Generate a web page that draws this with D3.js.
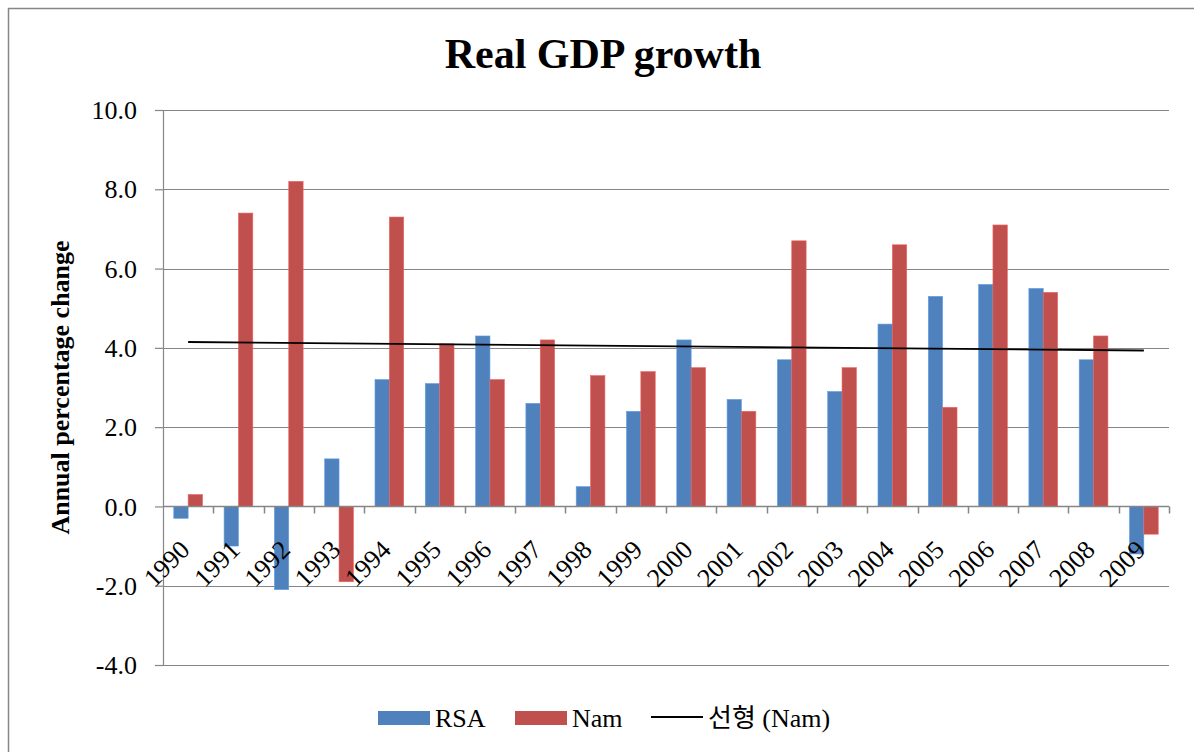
<!DOCTYPE html>
<html>
<head>
<meta charset="utf-8">
<script src="https://cdn.jsdelivr.net/npm/d3@7"></script>
<style>
  html, body { margin: 0; padding: 0; background: #fff; }
  svg { display: block; }
  text { font-family: "Liberation Serif", "Times New Roman", "Noto Sans CJK KR", serif; fill: #000; }
</style>
</head>
<body>
<svg id="chart" width="1194" height="752"></svg>
<script>
// Real GDP growth, annual percentage change
const years = ["1990","1991","1992","1993","1994","1995","1996","1997","1998","1999",
               "2000","2001","2002","2003","2004","2005","2006","2007","2008","2009"];
const rsa = [-0.3, -1.0, -2.1, 1.2, 3.2, 3.1, 4.3, 2.6, 0.5, 2.4,
             4.2, 2.7, 3.7, 2.9, 4.6, 5.3, 5.6, 5.5, 3.7, -1.2];
const nam = [0.3, 7.4, 8.2, -1.9, 7.3, 4.1, 3.2, 4.2, 3.3, 3.4,
             3.5, 2.4, 6.7, 3.5, 6.6, 2.5, 7.1, 5.4, 4.3, -0.7];
const yTicks = [-4, -2, 0, 2, 4, 6, 8, 10];
const seriesNames = ["RSA", "Nam"];
const trendName = "선형 (Nam)";
const colors = ["#4F81BD", "#C0504D"];

const svg = d3.select("#chart");
const margin = { left: 163, right: 1169, top: 110, bottom: 665 };

// outer chart frame (runs past the right and bottom edges)
svg.append("rect")
  .attr("x", 8.5).attr("y", 8.5)
  .attr("width", 1300).attr("height", 900)
  .attr("fill", "none").attr("stroke", "#868686").attr("stroke-width", 1.5);

const xCat = d3.scaleBand().domain(years).range([margin.left, margin.right]);
const y = d3.scaleLinear().domain([-4, 10]).range([margin.bottom, margin.top]);

// horizontal gridlines
svg.append("g").selectAll("line").data(yTicks).join("line")
  .attr("x1", margin.left).attr("x2", margin.right)
  .attr("y1", d => Math.round(y(d)) + 0.5).attr("y2", d => Math.round(y(d)) + 0.5)
  .attr("stroke", "#868686").attr("stroke-width", 1.2);

// y axis
const fmt = d => d3.format(".1f")(d).replace("\u2212", "-");
const yAxis = svg.append("g")
  .attr("transform", `translate(${margin.left},0)`)
  .call(d3.axisLeft(y).tickValues(yTicks).tickFormat(fmt).tickSize(8).tickPadding(18));
yAxis.select(".domain").attr("stroke", "#868686").attr("stroke-width", 1.2);
yAxis.selectAll(".tick line").attr("stroke", "#868686").attr("stroke-width", 1.2);
yAxis.selectAll(".tick text")
  .style("font-family", '"Liberation Serif", "Times New Roman", serif')
  .style("font-size", "26px").attr("fill", "#000").attr("dy", "0.33em");

// clustered bars: two series, gap of 150% of a bar width
const sub = d3.scaleBand().domain([0, 1]).range([0, xCat.bandwidth() * (2 / 3.5)]);
const barOffset = xCat.bandwidth() * (0.75 / 3.5);
const barData = [];
years.forEach((yr, i) => {
  barData.push({ yr, s: 0, v: rsa[i] });
  barData.push({ yr, s: 1, v: nam[i] });
});
svg.append("g").selectAll("rect").data(barData).join("rect")
  .attr("x", d => xCat(d.yr) + barOffset + sub(d.s))
  .attr("width", sub.bandwidth())
  .attr("y", d => y(Math.max(0, d.v)))
  .attr("height", d => Math.abs(y(d.v) - y(0)))
  .attr("fill", d => colors[d.s])
  .attr("stroke", d => d3.color(colors[d.s]).brighter(0.6))
  .attr("stroke-width", 0.6);

// x axis line at zero with category boundary ticks
const y0 = Math.round(y(0)) + 0.5;
svg.append("line")
  .attr("x1", margin.left).attr("x2", margin.right)
  .attr("y1", y0).attr("y2", y0)
  .attr("stroke", "#868686").attr("stroke-width", 1.5);
const bounds = years.map(yr => xCat(yr)).concat([margin.right]).slice(1);
svg.append("g").selectAll("line").data(bounds).join("line")
  .attr("x1", d => Math.round(d) + 0.5).attr("x2", d => Math.round(d) + 0.5)
  .attr("y1", y0).attr("y2", y0 + 7)
  .attr("stroke", "#868686").attr("stroke-width", 1.5);

// rotated category labels
svg.append("g").selectAll("text").data(years).join("text")
  .attr("transform", d => `translate(${xCat(d) + xCat.bandwidth() / 2 + 3},${y(0) + 45}) rotate(-45)`)
  .attr("text-anchor", "end")
  .style("font-size", "26px")
  .text(d => d);

// linear trend of Nam (least squares)
const n = nam.length;
const xm = d3.mean(d3.range(n));
const ym = d3.mean(nam);
const slope = d3.sum(d3.range(n), i => (i - xm) * (nam[i] - ym)) / d3.sum(d3.range(n), i => (i - xm) ** 2);
const icpt = ym - slope * xm;
const trend = [0, n - 1].map(i => [xCat(years[i]) + xCat.bandwidth() / 2, y(icpt + slope * i)]);
svg.append("path")
  .attr("d", d3.line()(trend))
  .attr("stroke", "#000").attr("stroke-width", 1.8).attr("fill", "none");

// title
svg.append("text")
  .attr("x", 603).attr("y", 68)
  .attr("text-anchor", "middle")
  .style("font-size", "42px").style("font-weight", "bold")
  .text("Real GDP growth");

// y axis title
svg.append("text")
  .attr("transform", `translate(69,${(margin.top + margin.bottom) / 2}) rotate(-90)`)
  .attr("text-anchor", "middle")
  .style("font-size", "26px").style("font-weight", "bold")
  .text("Annual percentage change");

// legend
const legend = svg.append("g");
const legendItems = [
  { type: "rect", color: colors[0], label: seriesNames[0], x: 378 },
  { type: "rect", color: colors[1], label: seriesNames[1], x: 515 },
  { type: "line", color: "#000", label: trendName, x: 651 }
];
legendItems.forEach(it => {
  if (it.type === "rect") {
    legend.append("rect").attr("x", it.x).attr("y", 711).attr("width", 52).attr("height", 14).attr("fill", it.color);
  } else {
    legend.append("line").attr("x1", it.x).attr("x2", it.x + 52).attr("y1", 717).attr("y2", 717)
      .attr("stroke", it.color).attr("stroke-width", 1.8);
  }
  legend.append("text").attr("x", it.x + 57).attr("y", 727)
    .style("font-size", "26px").text(it.label);
});
</script>
</body>
</html>
